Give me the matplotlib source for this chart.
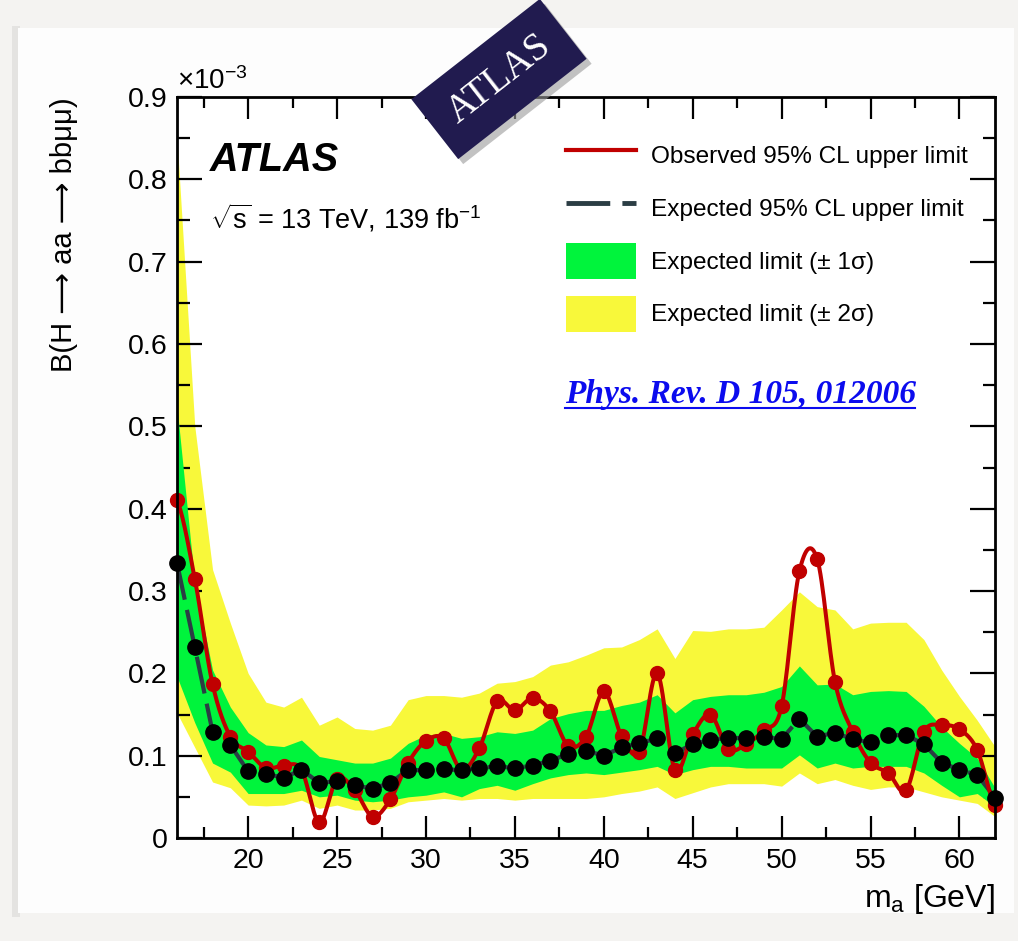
import numpy as np
import matplotlib
matplotlib.use('Agg')
import matplotlib.pyplot as plt
from matplotlib.patches import Rectangle, Patch
from matplotlib.lines import Line2D
from matplotlib.transforms import IdentityTransform

plt.rcParams['font.family'] = ['Liberation Sans', 'DejaVu Sans']
plt.rcParams['mathtext.fontset'] = 'custom'
plt.rcParams['mathtext.rm'] = 'Liberation Sans'
plt.rcParams['mathtext.it'] = 'Liberation Sans:italic'
plt.rcParams['mathtext.bf'] = 'Liberation Sans:bold'

# ---- data (x10^-3) ----
mass = list(range(16, 63))
observed = [0.410, 0.315, 0.187, 0.123, 0.105, 0.085, 0.088, 0.083, 0.019, 0.072,
            0.058, 0.026, 0.047, 0.0915, 0.118, 0.121, 0.083, 0.109, 0.166, 0.155,
            0.170, 0.154, 0.112, 0.123, 0.178, 0.124, 0.105, 0.200, 0.083, 0.126,
            0.150, 0.108, 0.114, 0.131, 0.160, 0.324, 0.339, 0.190, 0.129, 0.0915,
            0.079, 0.058, 0.129, 0.137, 0.132, 0.107, 0.040]
expected = [0.334, 0.232, 0.129, 0.113, 0.081, 0.078, 0.073, 0.083, 0.067, 0.069,
            0.064, 0.060, 0.067, 0.083, 0.082, 0.084, 0.082, 0.085, 0.087, 0.085,
            0.088, 0.094, 0.102, 0.106, 0.100, 0.110, 0.115, 0.121, 0.103, 0.114,
            0.119, 0.122, 0.121, 0.123, 0.120, 0.145, 0.123, 0.128, 0.120, 0.116,
            0.125, 0.125, 0.114, 0.0915, 0.083, 0.0765, 0.049]
sig2_up = [0.850, 0.500, 0.326, 0.261, 0.200, 0.165, 0.159, 0.171, 0.137, 0.147,
           0.133, 0.131, 0.137, 0.168, 0.173, 0.173, 0.171, 0.176, 0.188, 0.190,
           0.196, 0.210, 0.214, 0.222, 0.231, 0.232, 0.241, 0.254, 0.218, 0.252,
           0.251, 0.254, 0.254, 0.256, 0.277, 0.299, 0.281, 0.277, 0.254, 0.261,
           0.262, 0.262, 0.241, 0.204, 0.172, 0.143, 0.111]
sig1_up = [0.524, 0.310, 0.204, 0.159, 0.128, 0.113, 0.111, 0.119, 0.099, 0.095,
           0.091, 0.091, 0.097, 0.115, 0.125, 0.127, 0.121, 0.123, 0.129, 0.127,
           0.131, 0.145, 0.151, 0.155, 0.155, 0.161, 0.165, 0.174, 0.152, 0.168,
           0.172, 0.174, 0.174, 0.177, 0.184, 0.209, 0.186, 0.187, 0.174, 0.178,
           0.179, 0.178, 0.160, 0.135, 0.115, 0.097, 0.061]
sig1_lo = [0.196, 0.140, 0.091, 0.080, 0.054, 0.054, 0.054, 0.058, 0.050, 0.052,
           0.046, 0.044, 0.046, 0.050, 0.052, 0.056, 0.050, 0.060, 0.064, 0.058,
           0.066, 0.073, 0.077, 0.079, 0.077, 0.080, 0.083, 0.087, 0.077, 0.083,
           0.087, 0.087, 0.085, 0.085, 0.085, 0.101, 0.085, 0.091, 0.085, 0.087,
           0.087, 0.087, 0.079, 0.064, 0.050, 0.054, 0.038]
sig2_lo = [0.152, 0.110, 0.068, 0.061, 0.040, 0.039, 0.040, 0.046, 0.036, 0.040,
           0.034, 0.034, 0.036, 0.044, 0.046, 0.048, 0.046, 0.048, 0.048, 0.046,
           0.048, 0.048, 0.048, 0.048, 0.050, 0.054, 0.057, 0.062, 0.048, 0.055,
           0.062, 0.066, 0.066, 0.066, 0.063, 0.079, 0.066, 0.071, 0.064, 0.059,
           0.062, 0.062, 0.056, 0.050, 0.046, 0.042, 0.026]

ytick_labels = ['0', '0.1', '0.2', '0.3', '0.4', '0.5', '0.6', '0.7', '0.8', '0.9']
legend_labels = ['Observed 95% CL upper limit', 'Expected 95% CL upper limit',
                 'Expected limit (± 1σ)', 'Expected limit (± 2σ)']


def smooth(x, y, n=16):
    # catmull-rom curve through the points (like ROOT "C" option)
    x = np.asarray(x, float)
    y = np.asarray(y, float)
    xs, ys = [], []
    for i in range(len(x) - 1):
        p0 = y[max(i - 1, 0)]
        p1 = y[i]
        p2 = y[i + 1]
        p3 = y[min(i + 2, len(y) - 1)]
        m1 = (p2 - p0) / 2
        m2 = (p3 - p1) / 2
        t = np.linspace(0, 1, n, endpoint=False)
        h00 = 2*t**3 - 3*t**2 + 1
        h10 = t**3 - 2*t**2 + t
        h01 = -2*t**3 + 3*t**2
        h11 = t**3 - t**2
        xs.append(x[i] + t * (x[i + 1] - x[i]))
        ys.append(h00*p1 + h10*m1 + h01*p2 + h11*m2)
    xs.append([x[-1]])
    ys.append([y[-1]])
    return np.concatenate(xs), np.concatenate(ys)


W, H = 1018, 941
fig = plt.figure(figsize=(W / 100, H / 100), dpi=100)
fig.patch.set_facecolor('#f4f3f1')
px = IdentityTransform()

# white card with a soft shadow (behind the axes)
fig.add_artist(Rectangle((12, 24), 8, 891, transform=px, color='#e4e3e1', lw=0,
                         zorder=-10))
fig.add_artist(Rectangle((18, 28), 996, 885, transform=px, color='#fdfdfd', lw=0,
                         zorder=-9))

ax = fig.add_axes([177 / W, 103 / H, 818 / W, 741 / H])

yellow = '#f8f83a'
green = '#00f43c'
red = '#c00000'

ax.fill_between(mass, sig2_lo, sig2_up, color=yellow, lw=0, zorder=1)
ax.fill_between(mass, sig1_lo, sig1_up, color=green, lw=0, zorder=2)
ax.plot(mass, expected, color='#2b3d44', lw=3, ls=(0, (9, 2.5)), zorder=3)
sx, sy = smooth(mass, observed)
ax.plot(sx, sy, color=red, lw=2.9, zorder=4)
ax.plot(mass, observed, 'o', ms=10, color=red, zorder=5, clip_on=False)
ax.plot(mass, expected, 'o', ms=11, color='black', zorder=6, clip_on=False)

ax.set_xlim(16, 62)
ax.set_ylim(0, 0.9)
ax.set_xticks(range(20, 61, 5))
ax.set_xticks(np.arange(17.5, 62, 2.5), minor=True)
ax.set_yticks(np.arange(0, 0.91, 0.1))
ax.set_yticklabels(ytick_labels)
ax.set_yticks(np.arange(0.05, 0.9, 0.1), minor=True)
ax.tick_params(which='both', direction='in', top=True, right=True, width=1.6,
               labelsize=20.5, pad=7)
ax.tick_params(axis='x', which='major', length=16)
ax.tick_params(axis='x', which='minor', length=8)
ax.tick_params(axis='y', which='major', length=18)
ax.tick_params(axis='y', which='minor', length=9)
for s in ax.spines.values():
    s.set_linewidth(2)
    s.set_zorder(7)

ax.set_ylabel('B(H ⟶ aa ⟶ bbμμ)', fontsize=21, loc='top', labelpad=36)
ax.set_xlabel('m$_\\mathrm{a}$ [GeV]', fontsize=23, loc='right', labelpad=6)
ax.text(0.0, 1.003, '$\\times$10$^{-3}$', transform=ax.transAxes, fontsize=20,
        ha='left', va='bottom')

ax.text(0.04, 0.915, 'ATLAS', transform=ax.transAxes, fontsize=28.5,
        fontweight='bold', fontstyle='italic', va='center')
ax.text(0.04, 0.837, '$\\sqrt{\\mathrm{s}}$ = 13 TeV, 139 fb$^{-1}$',
        transform=ax.transAxes, fontsize=19.5, va='center')

handles = [Line2D([], [], color=red, lw=3),
           Line2D([], [], color='#2b3d44', lw=3.5, ls=(0, (9, 2.5))),
           Patch(facecolor=green, lw=0),
           Patch(facecolor=yellow, lw=0)]
ax.legend(handles, legend_labels, loc='upper left', bbox_to_anchor=(0.464, 0.959),
          frameon=False, fontsize=17.6, handlelength=2.85, handleheight=1.9,
          handletextpad=0.6, labelspacing=0.68, borderaxespad=0)

# journal reference
fig.text(565, H - 395, 'Phys. Rev. D 105, 012006', transform=px,
         family='Liberation Serif', fontstyle='italic', fontweight='bold',
         fontsize=24, color='#0b0bee', va='center', ha='left', zorder=20)
fig.add_artist(Line2D([565, 915], [H - 408, H - 408], transform=px,
                      color='#0b0bee', lw=1.5, zorder=20))

# rotated ATLAS badge
cx, cy = 499, H - 79
fig.add_artist(Rectangle((cx - 81.5 + 5, cy - 38 - 5), 163, 76, angle=38,
                         rotation_point='center', transform=px,
                         color='#9a9a9a', alpha=0.6, lw=0, zorder=20))
fig.add_artist(Rectangle((cx - 81.5, cy - 38), 163, 76, angle=38,
                         rotation_point='center', transform=px,
                         color='#211b4f', lw=0, zorder=21))
fig.text(cx, cy, 'ATLAS', transform=px, rotation=38, rotation_mode='anchor',
         ha='center', va='center', family='Liberation Serif', fontsize=28,
         color='white', zorder=22)

fig.savefig('out.png', dpi=100, facecolor=fig.get_facecolor())
